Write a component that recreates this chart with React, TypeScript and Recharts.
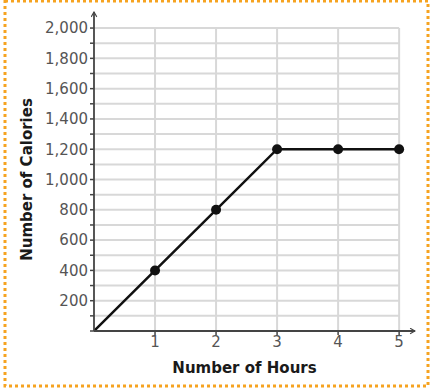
import { Label, Line, LineChart, ReferenceLine, XAxis, YAxis } from 'recharts';

const hours = [0, 1, 2, 3, 4, 5];
const calories = [0, 400, 800, 1200, 1200, 1200];
const xTicks = [1, 2, 3, 4, 5];
const yTicks = [0, 100, 200, 300, 400, 500, 600, 700, 800, 900, 1000, 1100, 1200, 1300, 1400, 1500, 1600, 1700, 1800, 1900, 2000];
const yLabelled = [200, 400, 600, 800, 1000, 1200, 1400, 1600, 1800, 2000];
const xMax = 5;
const yMax = 2000;

const data = hours.map((h, i) => ({ h, c: calories[i] }));

const axisColor = '#444';
const gridColor = '#d8d8d8';
const font = '"DejaVu Sans", sans-serif';

export default function App() {
  return (
    <div style={{ position: 'absolute', left: 0, top: 0, width: 433, height: 391, background: '#fff' }}>
      <LineChart width={433} height={391} data={data} margin={{ top: 12, right: 18, left: 0, bottom: 0 }}>
        <defs>
          <marker id="arrow" viewBox="0 0 10 10" refX="8" refY="5" markerWidth="7" markerHeight="7" orient="auto-start-reverse" markerUnits="userSpaceOnUse">
            <path d="M1,1 L8,5 L1,9" fill="none" stroke={axisColor} strokeWidth={1.6} />
          </marker>
        </defs>
        {yTicks.slice(1).map((v) => (
          <ReferenceLine key={'h' + v} segment={[{ x: 0, y: v }, { x: xMax, y: v }]} stroke={gridColor} strokeWidth={2} />
        ))}
        {xTicks.map((v) => (
          <ReferenceLine key={'v' + v} segment={[{ x: v, y: 0 }, { x: v, y: yMax }]} stroke={gridColor} strokeWidth={2} />
        ))}
        <XAxis
          dataKey="h"
          type="number"
          domain={[0, 5.26]}
          ticks={xTicks}
          allowDataOverflow
          height={60}
          tickSize={4}
          tickMargin={1}
          axisLine={{ stroke: axisColor, strokeWidth: 1.8, markerEnd: 'url(#arrow)' }}
          tickLine={{ stroke: axisColor, strokeWidth: 1.5 }}
          tick={{ fill: '#555', fontSize: 15, fontFamily: font }}
        >
          <Label
            content={({ viewBox }: any) => (
              <text x={viewBox.x + viewBox.width / 2 - 10} y={viewBox.y + 42} textAnchor="middle" fill="#1a1a1a" fontSize={15} fontWeight="bold" fontFamily={font}>
                Number of Hours
              </text>
            )}
          />
        </XAxis>
        <YAxis
          type="number"
          domain={[0, 2106]}
          ticks={yTicks}
          allowDataOverflow
          width={94}
          tickSize={4}
          tickMargin={2}
          interval={0}
          tickFormatter={(v: number) => (yLabelled.includes(v) ? v.toLocaleString('en-US') : '')}
          axisLine={{ stroke: axisColor, strokeWidth: 1.8, markerStart: 'url(#arrow)' }}
          tickLine={{ stroke: axisColor, strokeWidth: 1.5 }}
          tick={{ fill: '#555', fontSize: 15, fontFamily: font }}
        >
          <Label
            content={({ viewBox }: any) => {
              const cx = 27;
              const cy = viewBox.y + viewBox.height / 2 + 8;
              return (
                <text x={cx} y={cy} transform={`rotate(-90, ${cx}, ${cy})`} textAnchor="middle" dominantBaseline="central" fill="#1a1a1a" fontSize={15} fontWeight="bold" fontFamily={font}>
                  Number of Calories
                </text>
              );
            }}
          />
        </YAxis>
        <Line
          type="linear"
          dataKey="c"
          stroke="#111"
          strokeWidth={2.5}
          isAnimationActive={false}
          dot={(p: any) =>
            p.payload.h === 0 ? <g key={p.index} /> : <circle key={p.index} cx={p.cx} cy={p.cy} r={5} fill="#111" />
          }
        />
      </LineChart>
      <svg width={433} height={391} style={{ position: 'absolute', left: 0, top: 0, pointerEvents: 'none' }}>
        <rect x={5} y={1} width={423} height={385} fill="none" stroke="#f6a320" strokeWidth={3} strokeDasharray="3 3" />
      </svg>
    </div>
  );
}
